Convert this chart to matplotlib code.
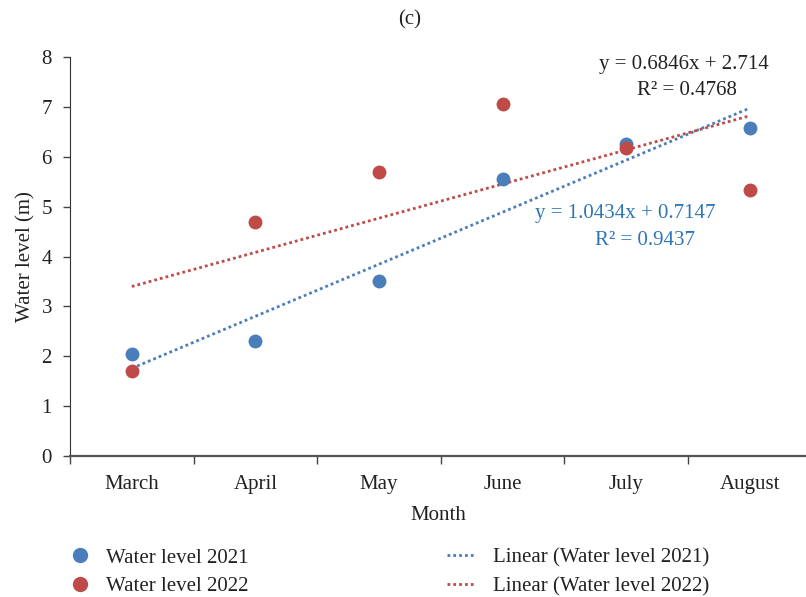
import matplotlib.pyplot as plt
from matplotlib.lines import Line2D

plt.rcParams["font.family"] = ["Liberation Serif", "DejaVu Serif"]

months = ["March", "April", "May", "June", "July", "August"]
level_2021 = [2.05, 2.30, 3.50, 5.55, 6.25, 6.58]
level_2022 = [1.70, 4.70, 5.70, 7.06, 6.18, 5.33]

# trend line coefficients (slope, intercept, R^2)
fit_2021 = (1.0434, 0.7147, 0.9437)
fit_2022 = (0.6846, 2.714, 0.4768)

blue = "#4a7ebb"
red = "#be4b48"
eq_blue = "#2e75b6"
txt = "#222222"
fs = 15

fig = plt.figure(figsize=(8.06, 5.97), dpi=100)
ax = fig.add_axes([70 / 806, 141 / 597, 736 / 806, 399 / 597])

x = list(range(1, len(months) + 1))
ax.scatter(x, level_2021, s=100, color=blue, zorder=3, linewidths=0)
ax.scatter(x, level_2022, s=100, color=red, zorder=3, linewidths=0)

dots = (0, (1, 1.1))
xs = [x[0], x[-1]]
ax.plot(xs, [fit_2021[0] * v + fit_2021[1] for v in xs], color=blue,
        ls=dots, lw=2, zorder=2)
ax.plot(xs, [fit_2022[0] * v + fit_2022[1] for v in xs], color=red,
        ls=dots, lw=2, zorder=2)

ax.text(5.47, 7.84, f"y = {fit_2022[0]}x + {fit_2022[1]}", ha="center",
        va="center", fontsize=fs, color=txt)
ax.text(5.49, 7.32, f"R² = {fit_2022[2]}", ha="center", va="center",
        fontsize=fs, color=txt)
ax.text(4.99, 4.87, f"y = {fit_2021[0]}x + {fit_2021[1]}", ha="center",
        va="center", fontsize=fs, color=eq_blue)
ax.text(5.15, 4.33, f"R² = {fit_2021[2]}", ha="center", va="center",
        fontsize=fs, color=eq_blue)

ax.set_xlim(0.5, 6.455)
ax.set_ylim(0, 8)
ax.set_yticks(range(0, 9))
ax.set_xticks(x)
ax.set_xticklabels(months)
ax.set_xticks([v + 0.5 for v in range(0, 6)], minor=True)
ax.tick_params(axis="x", which="major", length=0, pad=14, labelsize=fs,
               labelcolor=txt)
ax.tick_params(axis="x", which="minor", length=6, width=1, color="#444444")
ax.tick_params(axis="y", length=5, width=1, color="#444444", labelsize=fs,
               labelcolor=txt, pad=8)
for side in ("top", "right"):
    ax.spines[side].set_visible(False)
ax.spines["left"].set_color("#333333")
ax.spines["bottom"].set_color("#555555")
ax.spines["bottom"].set_linewidth(1.6)

ax.set_ylabel("Water level (m)", fontsize=fs, color=txt, labelpad=4)
ax.set_xlabel("Month", fontsize=fs, color=txt, labelpad=8)
fig.text(410 / 806, 1 - 20 / 597, "(c)", ha="center", va="center",
         fontsize=fs, color=txt)

pts = [
    Line2D([], [], ls="none", marker="o", ms=10, mfc=blue, mec=blue),
    Line2D([], [], ls="none", marker="o", ms=10, mfc=red, mec=red),
]
trends = [
    Line2D([], [], color=blue, ls=dots, lw=2),
    Line2D([], [], color=red, ls=dots, lw=2),
]
fig.legend(pts, ["Water level 2021", "Water level 2022"],
           loc="upper left", bbox_to_anchor=(72 / 806, 1 - 548 / 597),
           frameon=False, fontsize=fs, handlelength=0.8, handletextpad=0.85,
           labelspacing=0.44, borderpad=0, borderaxespad=0, labelcolor=txt)
fig.legend(trends, ["Linear (Water level 2021)", "Linear (Water level 2022)"],
           loc="upper left", bbox_to_anchor=(447 / 806, 1 - 548 / 597),
           frameon=False, fontsize=fs, handlelength=1.35, handletextpad=0.85,
           labelspacing=0.44, borderpad=0, borderaxespad=0, labelcolor=txt)

fig.savefig("out.png", dpi=100)
